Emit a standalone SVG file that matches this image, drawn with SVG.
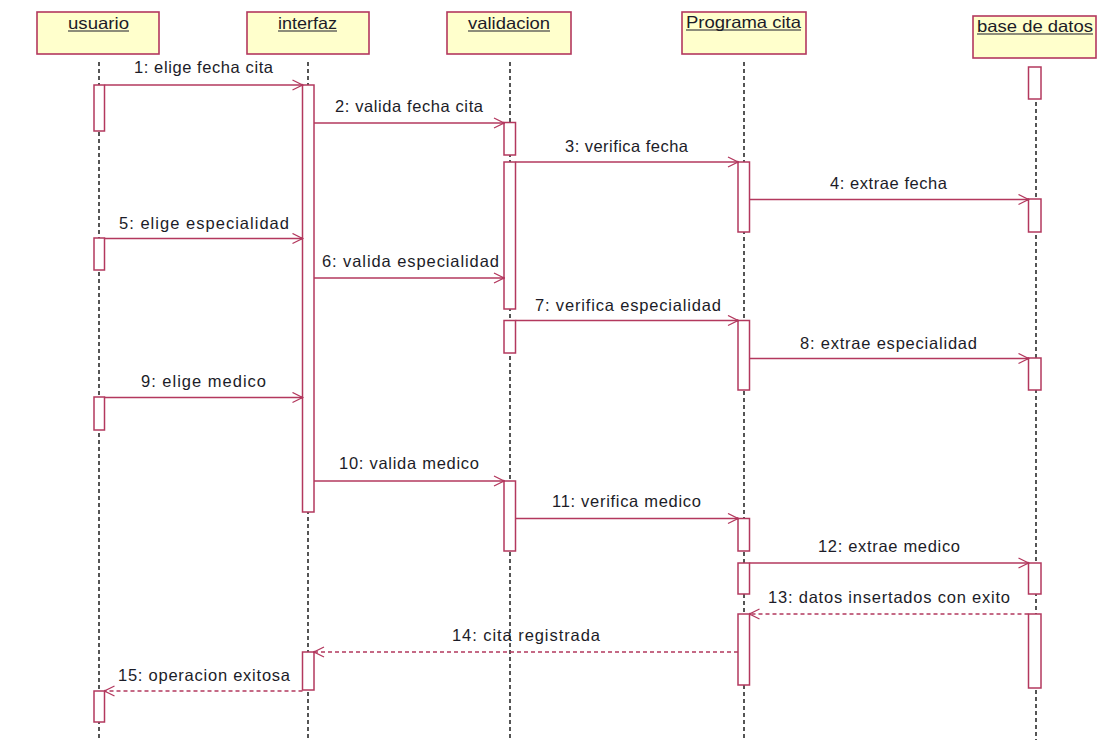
<svg xmlns="http://www.w3.org/2000/svg" width="1099" height="740" viewBox="0 0 1099 740">
  <style>
    .head { fill: #ffffcc; stroke: #b3385e; stroke-width: 1.6; }
    .life { stroke: #1e1e1e; stroke-width: 1.5; stroke-dasharray: 4 3; fill: none; }
    .act { fill: #ffffff; stroke: #b3385e; stroke-width: 1.5; }
    .name { font-family: "Liberation Sans", Arial, sans-serif; font-size: 16.5px; fill: #1c1c28; text-anchor: middle; }
    .uline { stroke: #1c1c28; stroke-width: 1.2; }
    .msg { stroke: #b3385e; stroke-width: 1.4; fill: none; }
    .ret { stroke: #b3385e; stroke-width: 1.4; fill: none; stroke-dasharray: 4 3; }
    .lbl { font-family: "Liberation Sans", Arial, sans-serif; font-size: 16.5px; fill: #1c1c28; text-anchor: middle; }
  </style>
  <defs>
    <marker id="open" viewBox="0 0 12 12" refX="11" refY="6" markerWidth="12" markerHeight="12" markerUnits="userSpaceOnUse" orient="auto">
      <path d="M1,1 L11,6 L1,11" fill="none" stroke="#b3385e" stroke-width="1.3"/>
      <circle cx="10.5" cy="6" r="1.3" fill="#b3385e"/>
    </marker>
  </defs>

  <rect width="1099" height="740" fill="#ffffff"/>

  <!-- usuario -->
  <g id="usuario">
    <rect class="head" x="37" y="12" width="122" height="42"/>
    <text class="name" x="98.5" y="29" textLength="61" lengthAdjust="spacingAndGlyphs">usuario</text>
    <line class="uline" x1="68" y1="31" x2="129" y2="31"/>
    <line class="life" x1="99" y1="62" x2="99" y2="740"/>
    <rect class="act" x="94" y="85" width="10.5" height="46"/>
    <rect class="act" x="94" y="238" width="10.5" height="32"/>
    <rect class="act" x="94" y="397" width="10.5" height="33"/>
    <rect class="act" x="94" y="691" width="10.5" height="31"/>
  </g>

  <!-- interfaz -->
  <g id="interfaz">
    <rect class="head" x="247" y="12" width="122" height="42"/>
    <text class="name" x="307.5" y="29" textLength="59" lengthAdjust="spacingAndGlyphs">interfaz</text>
    <line class="uline" x1="278" y1="31" x2="337" y2="31"/>
    <line class="life" x1="308" y1="62" x2="308" y2="740"/>
    <rect class="act" x="302.5" y="85" width="11.5" height="427"/>
    <rect class="act" x="302.5" y="652" width="11.5" height="38"/>
  </g>

  <!-- validacion -->
  <g id="validacion">
    <rect class="head" x="447" y="12" width="124" height="42"/>
    <text class="name" x="509" y="29" textLength="82" lengthAdjust="spacingAndGlyphs">validacion</text>
    <line class="uline" x1="468" y1="31" x2="550" y2="31"/>
    <line class="life" x1="510" y1="62" x2="510" y2="740"/>
    <rect class="act" x="504" y="122.5" width="11.5" height="32.5"/>
    <rect class="act" x="504" y="162" width="11.5" height="147"/>
    <rect class="act" x="504" y="320.5" width="11.5" height="32.5"/>
    <rect class="act" x="504" y="481" width="11.5" height="70"/>
  </g>

  <!-- Programa cita -->
  <g id="programa-cita">
    <rect class="head" x="682" y="12" width="124" height="42"/>
    <text class="name" x="743.5" y="28" textLength="115" lengthAdjust="spacingAndGlyphs">Programa cita</text>
    <line class="uline" x1="686" y1="30" x2="801" y2="30"/>
    <line class="life" x1="744" y1="62" x2="744" y2="740"/>
    <rect class="act" x="738" y="162" width="11.5" height="70"/>
    <rect class="act" x="738" y="320.5" width="11.5" height="69.5"/>
    <rect class="act" x="738" y="518.5" width="11.5" height="32.5"/>
    <rect class="act" x="738" y="563" width="11.5" height="31"/>
    <rect class="act" x="738" y="614" width="11.5" height="71"/>
  </g>

  <!-- base de datos -->
  <g id="base-de-datos">
    <rect class="head" x="973" y="16" width="123" height="42"/>
    <text class="name" x="1035" y="32" textLength="116" lengthAdjust="spacingAndGlyphs">base de datos</text>
    <line class="uline" x1="977" y1="34" x2="1093" y2="34"/>
    <line class="life" x1="1036" y1="67" x2="1036" y2="740"/>
    <rect class="act" x="1028.5" y="67" width="12.5" height="32"/>
    <rect class="act" x="1028.5" y="199" width="12.5" height="33"/>
    <rect class="act" x="1028.5" y="358" width="12.5" height="32"/>
    <rect class="act" x="1028.5" y="563" width="12.5" height="31"/>
    <rect class="act" x="1028.5" y="614" width="12.5" height="74"/>
  </g>

  <!-- messages -->
  <g id="connectors">
    <line class="msg" x1="104.5" y1="85" x2="302.5" y2="85" marker-end="url(#open)"/>
    <text class="lbl" x="203.5" y="73" textLength="139" lengthAdjust="spacing">1: elige fecha cita</text>

    <line class="msg" x1="314" y1="123" x2="504" y2="123" marker-end="url(#open)"/>
    <text class="lbl" x="409" y="112" textLength="148" lengthAdjust="spacing">2: valida fecha cita</text>

    <line class="msg" x1="515.5" y1="162" x2="738" y2="162" marker-end="url(#open)"/>
    <text class="lbl" x="626.5" y="152" textLength="123" lengthAdjust="spacing">3: verifica fecha</text>

    <line class="msg" x1="749.5" y1="199.5" x2="1028.5" y2="199.5" marker-end="url(#open)"/>
    <text class="lbl" x="888.5" y="189" textLength="117" lengthAdjust="spacing">4: extrae fecha</text>

    <line class="msg" x1="104.5" y1="238.5" x2="302.5" y2="238.5" marker-end="url(#open)"/>
    <text class="lbl" x="204" y="229" textLength="170" lengthAdjust="spacing">5: elige especialidad</text>

    <line class="msg" x1="314" y1="278" x2="504" y2="278" marker-end="url(#open)"/>
    <text class="lbl" x="410.5" y="267" textLength="177" lengthAdjust="spacing">6: valida especialidad</text>

    <line class="msg" x1="515.5" y1="320.5" x2="738" y2="320.5" marker-end="url(#open)"/>
    <text class="lbl" x="628" y="311" textLength="186" lengthAdjust="spacing">7: verifica especialidad</text>

    <line class="msg" x1="749.5" y1="358.5" x2="1028.5" y2="358.5" marker-end="url(#open)"/>
    <text class="lbl" x="888.5" y="349" textLength="177" lengthAdjust="spacing">8: extrae especialidad</text>

    <line class="msg" x1="104.5" y1="397.5" x2="302.5" y2="397.5" marker-end="url(#open)"/>
    <text class="lbl" x="203.5" y="387" textLength="125" lengthAdjust="spacing">9: elige medico</text>

    <line class="msg" x1="314" y1="481" x2="504" y2="481" marker-end="url(#open)"/>
    <text class="lbl" x="409" y="469" textLength="140" lengthAdjust="spacing">10: valida medico</text>

    <line class="msg" x1="515.5" y1="518.5" x2="738" y2="518.5" marker-end="url(#open)"/>
    <text class="lbl" x="626.5" y="507" textLength="149" lengthAdjust="spacing">11: verifica medico</text>

    <line class="msg" x1="749.5" y1="563" x2="1028.5" y2="563" marker-end="url(#open)"/>
    <text class="lbl" x="889" y="552" textLength="142" lengthAdjust="spacing">12: extrae medico</text>

    <line class="ret" x1="1028.5" y1="614" x2="749.5" y2="614" marker-end="url(#open)"/>
    <text class="lbl" x="889" y="603" textLength="242" lengthAdjust="spacing">13: datos insertados con exito</text>

    <line class="ret" x1="738" y1="652" x2="314" y2="652" marker-end="url(#open)"/>
    <text class="lbl" x="526" y="641" textLength="148" lengthAdjust="spacing">14: cita registrada</text>

    <line class="ret" x1="302.5" y1="691" x2="104.5" y2="691" marker-end="url(#open)"/>
    <text class="lbl" x="204" y="681" textLength="172" lengthAdjust="spacing">15: operacion exitosa</text>
  </g>
</svg>
